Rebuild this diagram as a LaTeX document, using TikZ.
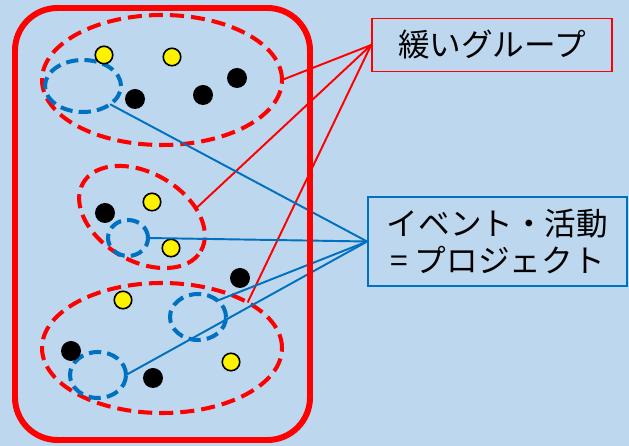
\documentclass[tikz,border=0pt]{standalone}
\usepackage{fontspec}
\newfontfamily\jpfont{Noto Sans CJK JP}
\usepackage{xcolor}
\usepackage{tikz}
\usetikzlibrary{shapes.geometric,positioning}
\definecolor{paleblue}{HTML}{BDD7EE}
\definecolor{projblue}{HTML}{0070C0}

\begin{document}
\begin{tikzpicture}[
    group/.style={ellipse, draw=red, line width=2.3pt, dash pattern=on 8pt off 4pt, inner sep=0pt, outer sep=0pt},
    project/.style={ellipse, draw=projblue, line width=2.3pt, dash pattern=on 7pt off 3.5pt, inner sep=0pt, outer sep=0pt},
    yellowdot/.style={circle, draw=black, fill=yellow, line width=0.9pt, minimum size=0.35cm, inner sep=0pt},
    blackdot/.style={circle, fill=black, minimum size=0.40cm, inner sep=0pt},
    tagbox/.style={draw, line width=1pt, font=\jpfont\fontsize{18}{21}\selectfont, align=center, inner sep=0pt},
    redlink/.style={red, line width=1.1pt},
    bluelink/.style={projblue, line width=1.1pt}
]

% Background
\fill[paleblue] (0,0) rectangle (12.58,8.92);
\useasboundingbox (0,0) rectangle (12.58,8.92);

% === Top group ===
\node[group, minimum width=4.8cm, minimum height=2.6cm] (g1) at (3.24,7.32) {};
\node[project, minimum width=1.52cm, minimum height=1.04cm] (p1) at (1.66,7.20) {};
\node[yellowdot] (y1) at (2.08,7.82) {};
\node[yellowdot] (y2) at (3.44,7.78) {};
\node[blackdot] (b1) at (2.70,6.94) {};
\node[blackdot] (b2) at (4.06,7.02) {};
\node[blackdot] (b3) at (4.74,7.36) {};

% === Middle group ===
\node[group, minimum width=2.72cm, minimum height=1.76cm, rotate=-30] (g2) at (2.84,4.58) {};
\node[project, minimum width=0.80cm, minimum height=0.72cm] (p2) at (2.56,4.16) {};
\node[blackdot] (b4) at (2.10,4.66) {};
\node[yellowdot] (y3) at (3.04,4.88) {};
\node[yellowdot] (y4) at (3.42,3.96) {};

% === Bottom group ===
\node[group, minimum width=4.8cm, minimum height=2.6cm] (g3) at (3.24,1.96) {};
\node[project, minimum width=1.12cm, minimum height=0.92cm] (p3) at (3.96,2.58) {};
\node[project, minimum width=1.12cm, minimum height=0.92cm] (p4) at (1.96,1.42) {};
\node[blackdot] (b5) at (4.80,3.36) {};
\node[yellowdot] (y5) at (2.46,2.92) {};
\node[blackdot] (b6) at (1.42,1.90) {};
\node[blackdot] (b7) at (3.06,1.36) {};
\node[yellowdot] (y6) at (4.62,1.68) {};

% === Labels ===
\node[tagbox, draw=red, minimum width=4.8cm, minimum height=1.06cm] (loose) at (9.84,8.02) {緩いグループ};
\node[tagbox, draw=projblue, minimum width=5.18cm, minimum height=1.78cm] (proj) at (9.95,4.09) {イベント・活動\\= プロジェクト};

% Connectors
\draw[redlink] (loose.west) -- (g1.east);
\draw[redlink] (loose.west) -- (g2.39);
\draw[redlink] (loose.west) -- (g3.28);
\draw[bluelink] (proj.west) -- (p1.-34);
\draw[bluelink] (proj.west) -- (p2.east);
\draw[bluelink] (proj.west) -- (p3.40);
\draw[bluelink] (proj.west) -- (p4.east);

% Outer frame
\node[draw=red, line width=3.4pt, rounded corners=0.85cm, minimum width=5.9cm, minimum height=8.64cm] (field) at (3.25,4.44) {};

\end{tikzpicture}
\end{document}
